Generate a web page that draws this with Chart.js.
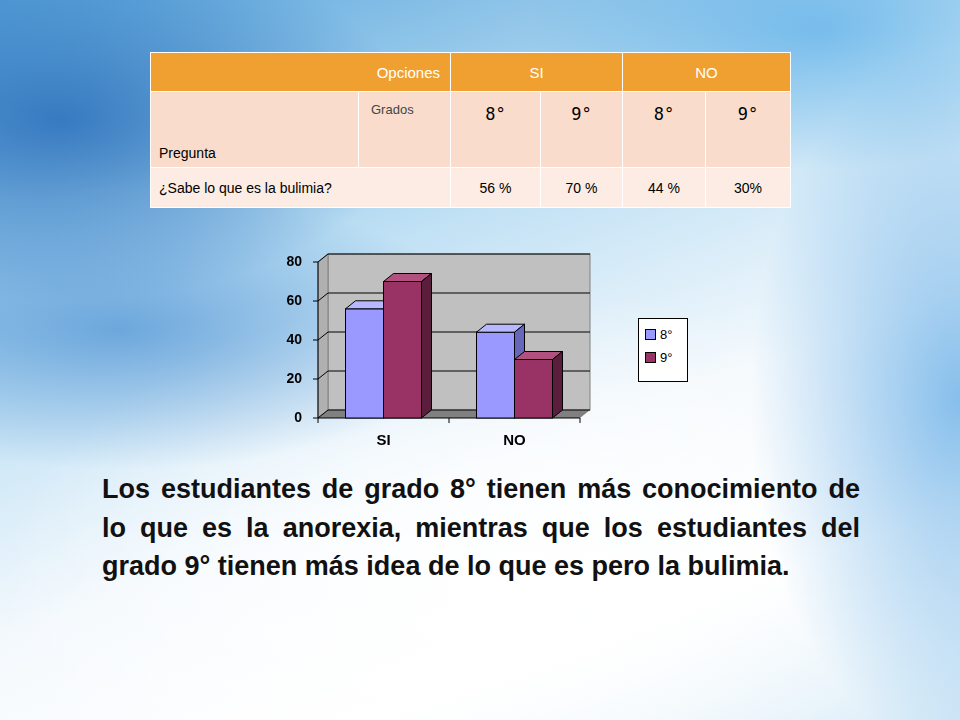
<!DOCTYPE html>
<html><head><meta charset="utf-8">
<script src="https://cdn.jsdelivr.net/npm/chart.js@4/dist/chart.umd.min.js"></script>
<style>
body{margin:0;width:960px;height:720px;overflow:hidden;position:relative;font-family:"Liberation Sans",Arial,sans-serif;
background:
radial-gradient(ellipse 520px 200px at 120px 330px, rgba(40,120,200,.55), transparent 70%),
radial-gradient(ellipse 500px 260px at 60px 120px, rgba(30,100,180,.75), transparent 70%),
radial-gradient(ellipse 300px 500px at 960px 400px, rgba(40,140,220,.55), transparent 70%),
radial-gradient(ellipse 420px 200px at 820px 30px, rgba(60,160,230,.5), transparent 70%),
radial-gradient(ellipse 700px 420px at 520px 600px, #ffffff, transparent 75%),
linear-gradient(160deg,#5aa6dc 0%,#bfe0f4 35%,#f4f9fd 60%,#ffffff 80%,#cfe7f6 100%);}
table{position:absolute;left:150px;top:52px;width:640px;border-collapse:collapse;font-size:14px;table-layout:fixed}
td{border:1px solid #fff;padding:0;box-sizing:border-box;overflow:hidden;white-space:nowrap}
.h td{background:#f0a030;color:#fff;height:39px;text-align:center;font-size:15px}
.r2 td{background:#f9dccb;height:76px}
.r3 td{background:#fcece3;height:40px;text-align:center}
.g{font-family:"DejaVu Sans Mono",monospace;font-size:17px;text-align:center;vertical-align:top;padding-top:12px}
#c{position:absolute;left:270px;top:245px}
#lg{position:absolute;left:638px;top:318px;width:48px;height:62px;background:#fff;border:1px solid #000;font-size:13px}
#lg div{display:flex;align-items:center;margin:8px 0 0 6px}
#lg span{display:inline-block;width:9px;height:9px;border:1px solid #000;margin-right:4px}
p{position:absolute;left:102px;top:470px;width:758px;margin:0;font-weight:bold;font-size:27px;line-height:38.5px;text-align:justify;color:#111}
</style></head><body>
<table id="t"><colgroup><col style="width:208px"><col style="width:92px"><col style="width:90px"><col style="width:82px"><col style="width:83px"><col style="width:85px"></colgroup></table>
<canvas id="c" width="420" height="210"></canvas>
<div id="lg"></div>
<p>Los estudiantes de grado 8° tienen más conocimiento de lo que es la anorexia, mientras que los estudiantes del grado 9° tienen más idea de lo que es pero la bulimia.</p>
<script>
const categories=["SI","NO"];
const series=["8°","9°"];
const values8=[56,44];
const values9=[70,30];
const tableLabels=["56 %","70 %","44 %","30%"];
const question="¿Sabe lo que es la bulimia?";
const yTicks=[0,20,40,60,80];

document.getElementById('t').insertAdjacentHTML('beforeend',
`<tr class="h"><td colspan="2" style="text-align:right;padding-right:10px">Opciones</td><td colspan="2">${categories[0]}</td><td colspan="2">${categories[1]}</td></tr>
<tr class="r2"><td style="vertical-align:bottom;padding:0 0 6px 8px">Pregunta</td><td style="vertical-align:top;padding:10px 0 0 12px;color:#444;font-size:13px">Grados</td>
<td class="g">8°</td><td class="g">9°</td><td class="g">8°</td><td class="g">9°</td></tr>
<tr class="r3"><td colspan="2" style="text-align:left;padding-left:8px">${question}</td>${tableLabels.map(v=>`<td>${v}</td>`).join('')}</tr>`);

const cols=[{f:'#9999ff',t:'#b8b8ff',s:'#6666bb'},{f:'#993366',t:'#b2507f',s:'#5a1e3c'}];
document.getElementById('lg').innerHTML=series.map((s,i)=>`<div><span style="background:${cols[i].f}"></span>${s}</div>`).join('');
const DX=10,DY=-8;
const threeD={id:'threeD',
beforeDatasetsDraw(ch){const c=ch.ctx,a=ch.chartArea,y=ch.scales.y;
 c.save();
 c.fillStyle='#c0c0c0';c.strokeStyle='#808080';c.lineWidth=1;
 c.fillRect(a.left+DX,a.top+DY,a.right-a.left,a.bottom-a.top);c.strokeRect(a.left+DX,a.top+DY,a.right-a.left,a.bottom-a.top);
 c.fillStyle='#b0b0b0';c.beginPath();c.moveTo(a.left,a.top);c.lineTo(a.left+DX,a.top+DY);c.lineTo(a.left+DX,a.bottom+DY);c.lineTo(a.left,a.bottom);c.closePath();c.fill();c.stroke();
 c.fillStyle='#808080';c.beginPath();c.moveTo(a.left,a.bottom);c.lineTo(a.left+DX,a.bottom+DY);c.lineTo(a.right+DX,a.bottom+DY);c.lineTo(a.right,a.bottom);c.closePath();c.fill();
 c.strokeStyle='#000';
 yTicks.forEach(v=>{const p=y.getPixelForValue(v);c.beginPath();c.moveTo(a.left,p);c.lineTo(a.left+DX,p+DY);c.lineTo(a.right+DX,p+DY);c.stroke();});
 c.beginPath();c.moveTo(a.left,a.top);c.lineTo(a.left,a.bottom);c.lineTo(a.right,a.bottom);c.stroke();
 yTicks.forEach(v=>{const p=y.getPixelForValue(v);c.beginPath();c.moveTo(a.left-5,p);c.lineTo(a.left,p);c.stroke();});
 [a.left,(a.left+a.right)/2,a.right].forEach(p=>{c.beginPath();c.moveTo(p,a.bottom);c.lineTo(p,a.bottom+5);c.stroke();});
 c.restore();},
afterDatasetsDraw(ch){const c=ch.ctx;c.save();c.strokeStyle='#000';c.lineWidth=1;
 ch.data.datasets.forEach((d,i)=>{ch.getDatasetMeta(i).data.forEach(b=>{const l=b.x-b.width/2,r=b.x+b.width/2,t=b.y,bo=b.base;
  c.fillStyle=cols[i].f;c.fillRect(l,t,r-l,bo-t);c.strokeRect(l,t,r-l,bo-t);
  c.fillStyle=cols[i].t;c.beginPath();c.moveTo(l,t);c.lineTo(l+DX,t+DY);c.lineTo(r+DX,t+DY);c.lineTo(r,t);c.closePath();c.fill();c.stroke();
  c.fillStyle=cols[i].s;c.beginPath();c.moveTo(r,t);c.lineTo(r+DX,t+DY);c.lineTo(r+DX,bo+DY);c.lineTo(r,bo);c.closePath();c.fill();c.stroke();});});
 c.restore();}};
new Chart(document.getElementById('c'),{type:'bar',
data:{labels:categories,datasets:[{label:series[0],data:values8,backgroundColor:'rgba(0,0,0,0)'},{label:series[1],data:values9,backgroundColor:'rgba(0,0,0,0)'}]},
options:{responsive:false,animation:false,layout:{padding:{top:17,right:110,left:0,bottom:0}},
 categoryPercentage:0.58,barPercentage:1,
 plugins:{legend:{display:false},tooltip:{enabled:false}},
 scales:{x:{grid:{display:false},border:{display:false},afterFit:s=>{s.height=37},ticks:{color:'#000',font:{family:'Liberation Sans',size:15,weight:'bold'},padding:6}},
  y:{min:0,max:80,afterBuildTicks:s=>{s.ticks=yTicks.map(v=>({value:v}))},grid:{display:false},border:{display:false},afterFit:s=>{s.width=48},ticks:{color:'#000',font:{family:'Liberation Sans',size:14,weight:'bold'},padding:8}}}},
plugins:[threeD]});
</script></body></html>
